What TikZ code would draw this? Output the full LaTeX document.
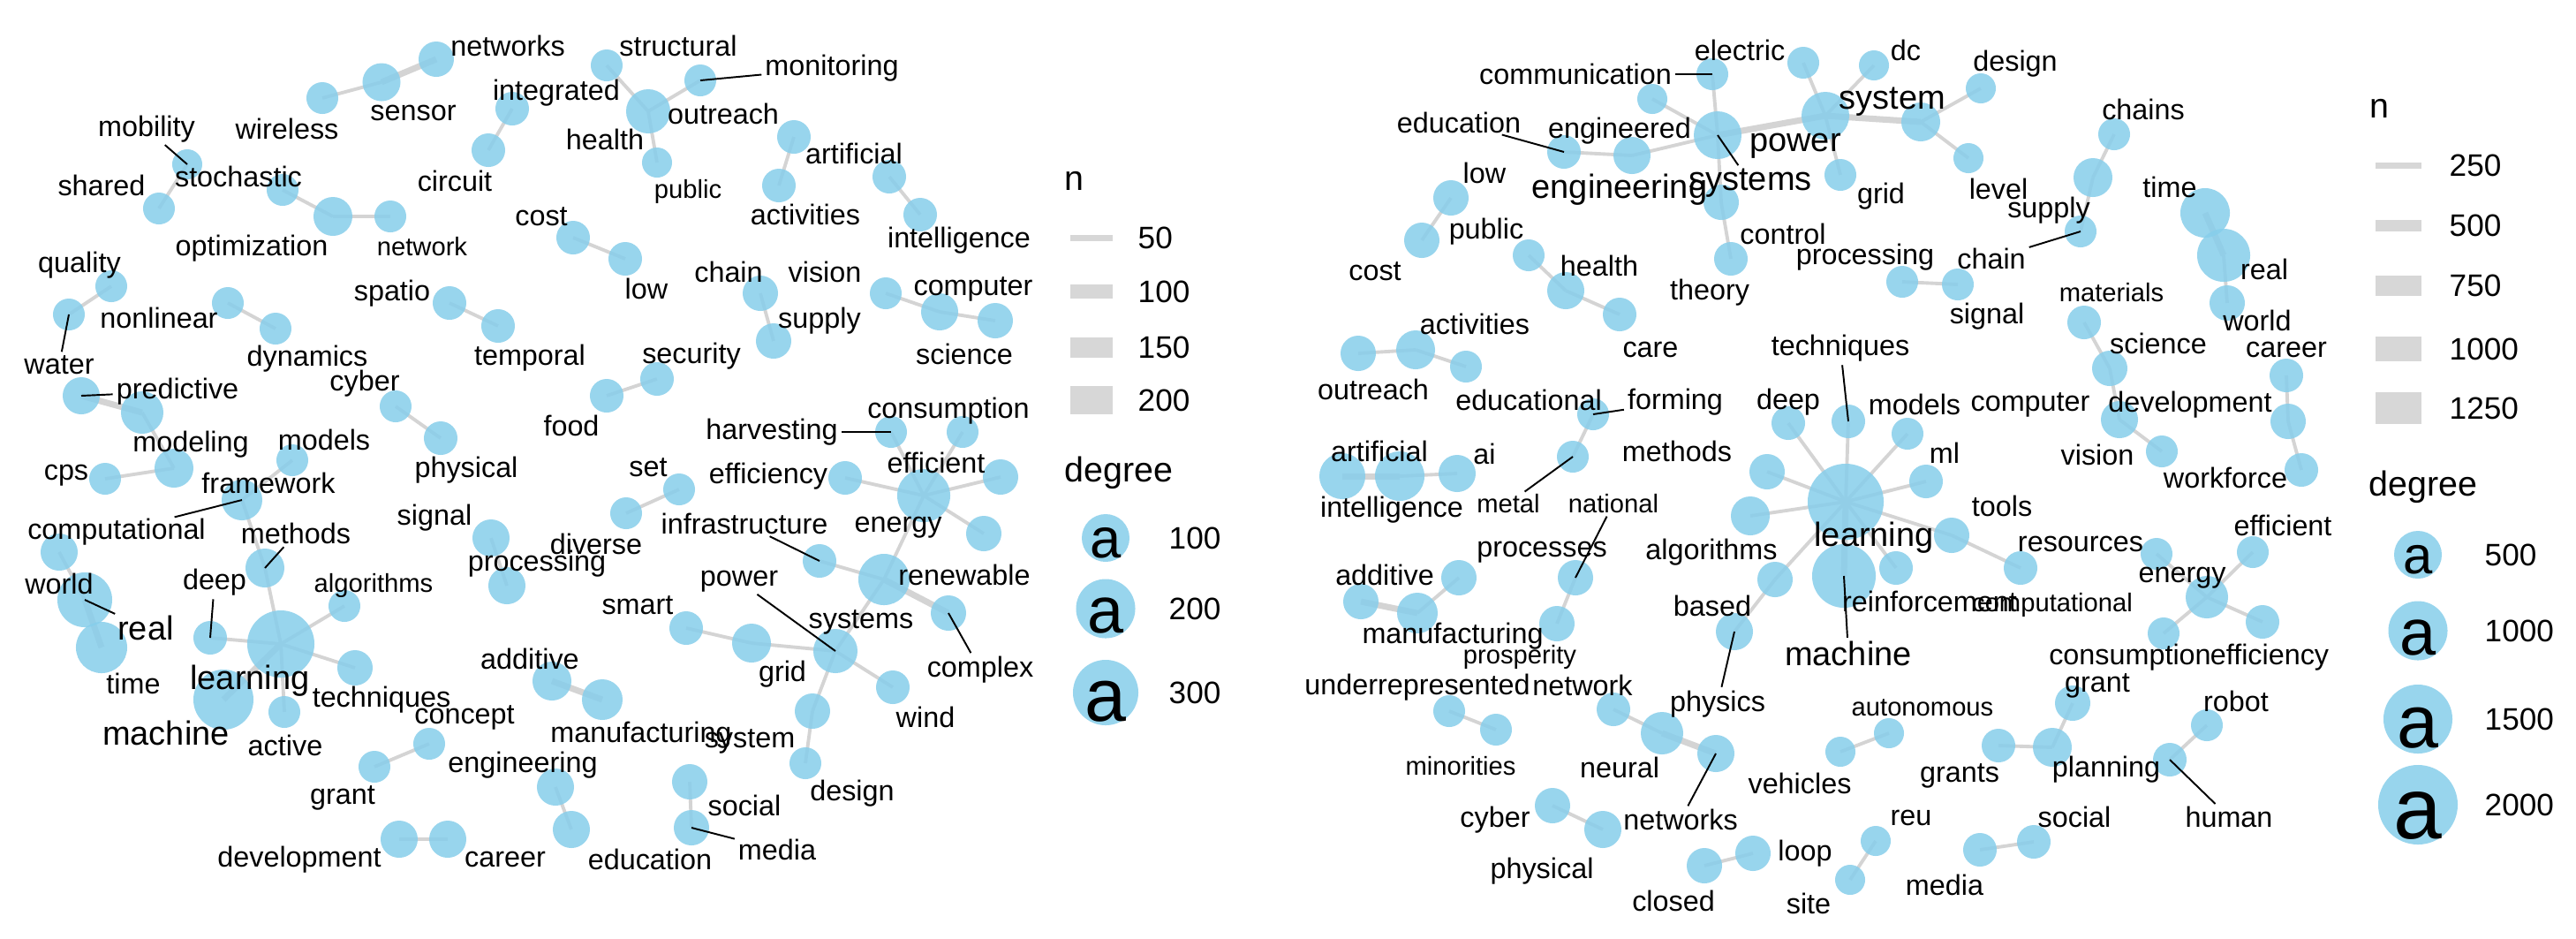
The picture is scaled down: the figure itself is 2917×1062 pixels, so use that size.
\documentclass[tikz,border=0pt]{standalone}
\usepackage{fontspec}
\setmainfont{Liberation Sans}
\usetikzlibrary{backgrounds}
\definecolor{nodeblue}{RGB}{135,206,235}
\definecolor{edgegrey}{RGB}{212,212,212}
\definecolor{keygrey}{RGB}{215,215,215}
\tikzset{
  nd/.style={circle, fill=nodeblue, fill opacity=0.85, draw=none, inner sep=0pt, minimum size=#1*0.1mm},
  lb/.style={inner sep=0pt, text=black, font=\fontsize{9.2}{10}\selectfont},
  lbs/.style={lb, font=\fontsize{8.3}{9}\selectfont},
  lbl/.style={lb, font=\fontsize{10.8}{12}\selectfont},
  ed/.style={draw=edgegrey, line width=1.1pt},
  edt/.style={draw=edgegrey, line width=2pt},
  ld/.style={draw=black, line width=0.55pt, shorten <=1pt},
  lgt/.style={inner sep=0pt, anchor=west, font=\fontsize{11.2}{12}\selectfont},
  lgn/.style={inner sep=0pt, anchor=west, font=\fontsize{10}{11}\selectfont},
  keyline/.style={draw=keygrey, line width=#1*0.1mm},
}
\newcommand\mkN[4]{\node[nd=#4] (#1) at (#2,#3) {};}
\newcommand\mkT[5][lb]{\node[#1] (t#2) at (#3,#4) {#5};}
\newcommand\mkE[3][ed]{\draw[#1] (#2.center) -- (#3.center);}
\newcommand\mkL[1]{\draw[ld] (t#1) -- (#1.center);}
\begin{document}
\begin{tikzpicture}[x=0.01cm, y=-0.01cm]
\useasboundingbox (0,0) rectangle (2917,1062);
% ================= LEFT PANEL: nodes =================
\mkN{Lnetworks}{494}{67}{40}
\mkN{Lsensor}{432}{93}{43}
\mkN{Lwireless}{365}{111}{36}
\mkN{Lmobility}{212}{186}{34}
\mkN{Lshared}{180}{236}{36}
\mkN{Lstochastic}{320}{215}{36}
\mkN{Loptimization}{377}{245}{44}
\mkN{Lnetwork}{442}{245}{36}
\mkN{Lquality}{126}{324}{36}
\mkN{Lwater}{78}{356}{36}
\mkN{Lnonlinear}{258}{343}{36}
\mkN{Ldynamics}{312}{372}{36}
\mkN{Lspatio}{509}{343}{38}
\mkN{Ltemporal}{564}{369}{38}
\mkN{Lpredictive}{92}{448}{42}
\mkN{Lmodeling}{161}{467}{48}
\mkN{Lcyber}{448}{460}{36}
\mkN{Lphysical}{499}{496}{38}
\mkN{Lmodels}{331}{521}{36}
\mkN{Lcps}{119}{542}{36}
\mkN{Lframework}{197}{530}{44}
\mkN{Lcomputational}{274}{566}{46}
\mkN{Lmethods}{300}{643}{44}
\mkN{Lworld}{67}{625}{42}
\mkN{Lreal}{96}{679}{62}
\mkN{Ltime}{115}{733}{58}
\mkN{Ldeep}{238}{722}{38}
\mkN{Llearning}{318}{729}{76}
\mkN{Lmachine}{253}{792}{68}
\mkN{Lalgorithms}{390}{686}{36}
\mkN{Ltechniques}{402}{756}{40}
\mkN{Lactive}{322}{806}{36}
\mkN{Lconcept}{486}{842}{36}
\mkN{Lgrant}{424}{868}{36}
\mkN{Ldevelopment}{452}{950}{42}
\mkN{Lcareer}{507}{950}{42}
\mkN{Lsignal}{556}{609}{42}
\mkN{Lprocessing}{574}{663}{42}
\mkN{Lset}{769}{554}{36}
\mkN{Ldiverse}{709}{581}{36}
\mkN{Lefficiency}{957}{541}{38}
\mkN{Lenergy}{1046}{561}{60}
\mkN{Lharvesting}{1009}{489}{36}
\mkN{Lconsumption}{1090}{489}{36}
\mkN{Lefficient}{1133}{540}{40}
\mkN{Lrenewable}{1114}{604}{40}
\mkN{Lsystems}{1001}{656}{58}
\mkN{Linfrastructure}{928}{635}{38}
\mkN{Lcomplex}{1074}{694}{40}
\mkN{Lpower}{946}{737}{50}
\mkN{Lgrid}{851}{728}{44}
\mkN{Lsmart}{777}{711}{38}
\mkN{Lwind}{1011}{778}{38}
\mkN{Lsystem}{920}{805}{40}
\mkN{Ldesign}{912}{864}{36}
\mkN{Ladditive}{625}{771}{44}
\mkN{Lmanufacturing}{682}{792}{46}
\mkN{Lengineering}{629}{891}{42}
\mkN{Leducation}{647}{939}{42}
\mkN{Lsocial}{781}{885}{40}
\mkN{Lmedia}{783}{937}{40}
\mkN{Lstructural}{687}{74}{36}
\mkN{Lmonitoring}{793}{91}{36}
\mkN{Lhealth}{734}{126}{50}
\mkN{Lpublic}{744}{184}{34}
\mkN{Loutreach}{899}{155}{38}
\mkN{Lactivities}{882}{210}{38}
\mkN{Lartificial}{1007}{200}{38}
\mkN{Lintelligence}{1042}{243}{38}
\mkN{Lcost}{649}{269}{38}
\mkN{Llow}{708}{293}{38}
\mkN{Lchain}{861}{332}{40}
\mkN{Lsupply}{876}{386}{40}
\mkN{Lvision}{1003}{332}{36}
\mkN{Lcomputer}{1064}{353}{42}
\mkN{Lscience}{1127}{363}{40}
\mkN{Lfood}{687}{448}{38}
\mkN{Lsecurity}{744}{429}{38}
\mkN{Lintegrated}{580}{123}{38}
\mkN{Lcircuit}{553}{170}{38}
% ================= RIGHT PANEL: nodes =================
\mkN{Relectric}{2042}{71}{36}
\mkN{Rcommunication}{1939}{84}{36}
\mkN{Rengineered}{1871}{112}{34}
\mkN{Reducation}{1771}{172}{38}
\mkN{Rengineering}{1848}{176}{42}
\mkN{Rsystems}{1945}{153}{54}
\mkN{Rcontrol}{1949}{229}{40}
\mkN{Rtheory}{1960}{293}{38}
\mkN{Rpower}{2067}{131}{54}
\mkN{Rdc}{2122}{74}{34}
\mkN{Rdesign}{2243}{100}{34}
\mkN{Rsystem}{2175}{138}{44}
\mkN{Rgrid}{2084}{198}{36}
\mkN{Rlevel}{2229}{179}{34}
\mkN{Rchains}{2394}{152}{36}
\mkN{Rsupply}{2370}{201}{44}
\mkN{Rchain}{2356}{262}{36}
\mkN{Rprocessing}{2154}{319}{36}
\mkN{Rsignal}{2217}{322}{36}
\mkN{Rtime}{2497}{241}{56}
\mkN{Rreal}{2518}{289}{60}
\mkN{Rworld}{2522}{343}{40}
\mkN{Rmaterials}{2360}{365}{38}
\mkN{Rscience}{2389}{417}{40}
\mkN{Rcomputer}{2400}{475}{42}
\mkN{Rvision}{2448}{511}{36}
\mkN{Rcareer}{2589}{425}{38}
\mkN{Rdevelopment}{2591}{477}{40}
\mkN{Rworkforce}{2606}{532}{38}
\mkN{Rdeep}{2025}{479}{38}
\mkN{Rtechniques}{2093}{477}{38}
\mkN{Rmodels}{2160}{491}{36}
\mkN{Rml}{2181}{545}{38}
\mkN{Rlearning}{2090}{568}{86}
\mkN{Rmachine}{2088}{652}{72}
\mkN{Rreinforcement}{2147}{643}{38}
\mkN{Rtools}{2210}{606}{40}
\mkN{Rcomputational}{2288}{643}{38}
\mkN{Rresources}{2442}{627}{36}
\mkN{Renergy}{2499}{676}{48}
\mkN{Refficient}{2551}{625}{36}
\mkN{Refficiency}{2562}{704}{38}
\mkN{Rconsumption}{2450}{717}{36}
\mkN{Rgrant}{2347}{796}{40}
\mkN{Rplanning}{2324}{846}{44}
\mkN{Rgrants}{2263}{844}{38}
\mkN{Rrobot}{2499}{821}{36}
\mkN{Rhuman}{2457}{860}{38}
\mkN{Rautonomous}{2139}{830}{34}
\mkN{Rvehicles}{2084}{851}{34}
\mkN{Rreu}{2124}{952}{34}
\mkN{Rsite}{2095}{996}{34}
\mkN{Rsocial}{2303}{953}{38}
\mkN{Rmedia}{2242}{962}{38}
\mkN{Rloop}{1985}{966}{40}
\mkN{Rclosed}{1930}{980}{40}
\mkN{Rcyber}{1758}{912}{40}
\mkN{Rphysical}{1815}{939}{42}
\mkN{Rneural}{1882}{830}{48}
\mkN{Rnetwork}{1827}{803}{38}
\mkN{Rnetworks}{1943}{853}{42}
\mkN{Rphysics}{1964}{715}{42}
\mkN{Rbased}{2010}{656}{40}
\mkN{Ralgorithms}{1982}{584}{44}
\mkN{Rmethods}{2001}{534}{40}
\mkN{Runderrepresented}{1641}{805}{36}
\mkN{Rminorities}{1694}{826}{36}
\mkN{Rnational}{1784}{654}{40}
\mkN{Rprosperity}{1763}{706}{40}
\mkN{Radditive}{1541}{681}{40}
\mkN{Rmanufacturing}{1605}{694}{46}
\mkN{Rprocesses}{1652}{654}{40}
\mkN{Rartificial}{1520}{539}{52}
\mkN{Rintelligence}{1585}{539}{56}
\mkN{Rai}{1650}{536}{42}
\mkN{Rmetal}{1781}{517}{36}
\mkN{Rforming}{1804}{469}{36}
\mkN{Routreach}{1538}{400}{40}
\mkN{Ractivities}{1603}{396}{44}
\mkN{Reducational}{1660}{415}{36}
\mkN{Rlow}{1643}{224}{40}
\mkN{Rcost}{1610}{272}{40}
\mkN{Rpublic}{1731}{289}{36}
\mkN{Rhealth}{1773}{329}{42}
\mkN{Rcare}{1834}{356}{38}
% ================= edges (background) =================
\begin{scope}[on background layer]
\fill[white] (0,0) rectangle (2917,1062);
\mkE[edt]{Lnetworks}{Lsensor} \mkE{Lsensor}{Lwireless}
\mkE{Lmobility}{Lshared}
\mkE{Lstochastic}{Loptimization} \mkE{Loptimization}{Lnetwork}
\mkE{Lquality}{Lwater}
\mkE{Lnonlinear}{Ldynamics}
\mkE{Lspatio}{Ltemporal}
\mkE[edt]{Lpredictive}{Lmodeling} \mkE{Lmodeling}{Lframework} \mkE{Lcps}{Lframework}
\mkE{Lcomputational}{Lmodels} \mkE{Lcomputational}{Lmethods} \mkE{Lmethods}{Llearning}
\mkE{Lcyber}{Lphysical}
\mkE{Lworld}{Lreal} \mkE[edt]{Lreal}{Ltime}
\mkE{Ldeep}{Llearning} \mkE[edt]{Llearning}{Lmachine} \mkE{Llearning}{Lalgorithms}
\mkE{Llearning}{Ltechniques} \mkE{Llearning}{Lactive}
\mkE{Lconcept}{Lgrant}
\mkE{Ldevelopment}{Lcareer}
\mkE{Lsignal}{Lprocessing}
\mkE{Lset}{Ldiverse}
\mkE{Lenergy}{Lefficiency} \mkE{Lenergy}{Lharvesting} \mkE{Lenergy}{Lconsumption}
\mkE{Lenergy}{Lefficient} \mkE{Lenergy}{Lrenewable} \mkE{Lenergy}{Lsystems}
\mkE{Lsystems}{Linfrastructure} \mkE[edt]{Lsystems}{Lcomplex} \mkE{Lsystems}{Lpower}
\mkE{Lpower}{Lgrid} \mkE{Lgrid}{Lsmart} \mkE{Lpower}{Lwind} \mkE{Lpower}{Lsystem} \mkE{Lsystem}{Ldesign}
\mkE[edt]{Ladditive}{Lmanufacturing}
\mkE{Lengineering}{Leducation}
\mkE{Lsocial}{Lmedia}
\mkE{Lstructural}{Lhealth} \mkE{Lhealth}{Lmonitoring} \mkE{Lhealth}{Lpublic}
\mkE{Lintegrated}{Lcircuit}
\mkE{Loutreach}{Lactivities}
\mkE{Lartificial}{Lintelligence}
\mkE{Lcost}{Llow}
\mkE{Lchain}{Lsupply}
\mkE{Lvision}{Lcomputer} \mkE{Lcomputer}{Lscience}
\mkE{Lfood}{Lsecurity}
% right
\mkE{Rsystems}{Rcommunication} \mkE{Rsystems}{Rengineered} \mkE{Rsystems}{Rengineering}
\mkE{Rsystems}{Rcontrol} \mkE[edt]{Rsystems}{Rpower}
\mkE{Rengineering}{Reducation}
\mkE{Rcontrol}{Rtheory}
\mkE{Rpower}{Relectric} \mkE{Rpower}{Rdc} \mkE{Rpower}{Rgrid} \mkE[edt]{Rpower}{Rsystem}
\mkE{Rsystem}{Rdesign} \mkE{Rsystem}{Rlevel}
\mkE{Rsupply}{Rchains} \mkE{Rsupply}{Rchain}
\mkE{Rprocessing}{Rsignal}
\mkE[edt]{Rtime}{Rreal} \mkE{Rreal}{Rworld}
\mkE{Rmaterials}{Rscience} \mkE{Rscience}{Rcomputer} \mkE{Rcomputer}{Rvision}
\mkE{Rcareer}{Rdevelopment} \mkE{Rdevelopment}{Rworkforce}
\mkE{Rlearning}{Rdeep} \mkE{Rlearning}{Rtechniques} \mkE{Rlearning}{Rmodels}
\mkE{Rlearning}{Rml} \mkE{Rlearning}{Rtools} \mkE{Rlearning}{Rreinforcement}
\mkE[edt]{Rlearning}{Rmachine} \mkE{Rlearning}{Rmethods} \mkE{Rlearning}{Ralgorithms}
\mkE{Rlearning}{Rbased}
\mkE{Rtools}{Rcomputational}
\mkE{Renergy}{Rresources} \mkE{Renergy}{Refficient} \mkE{Renergy}{Refficiency} \mkE{Renergy}{Rconsumption}
\mkE{Rgrants}{Rplanning} \mkE{Rplanning}{Rgrant}
\mkE{Rrobot}{Rhuman}
\mkE{Rautonomous}{Rvehicles}
\mkE{Rreu}{Rsite}
\mkE{Rsocial}{Rmedia}
\mkE{Rclosed}{Rloop}
\mkE{Rcyber}{Rphysical}
\mkE{Rnetwork}{Rneural} \mkE[edt]{Rneural}{Rnetworks}
\mkE{Rphysics}{Rbased}
\mkE{Runderrepresented}{Rminorities}
\mkE{Rnational}{Rprosperity}
\mkE[edt]{Radditive}{Rmanufacturing} \mkE{Rmanufacturing}{Rprocesses}
\mkE[edt]{Rartificial}{Rintelligence} \mkE{Rintelligence}{Rai}
\mkE{Rforming}{Rmetal}
\mkE{Routreach}{Ractivities} \mkE{Ractivities}{Reducational}
\mkE{Rlow}{Rcost}
\mkE{Rpublic}{Rhealth} \mkE{Rhealth}{Rcare}
\end{scope}
% ================= LEFT labels =================
\mkT{Lnetworks}{575}{52}{networks}
\mkT{Lsensor}{468}{128}{sensor}
\mkT{Lwireless}{325}{146}{wireless}
\mkT{Lmobility}{166}{146}{mobility}
\mkT{Lstochastic}{270}{200}{stochastic}
\mkT{Lshared}{115}{210}{shared}
\mkT{Loptimization}{285}{281}{optimization}
\mkT[lbs]{Lnetwork}{478}{279}{network}
\mkT{Lquality}{90}{300}{quality}
\mkT{Lwater}{67}{413}{water}
\mkT{Lnonlinear}{180}{360}{nonlinear}
\mkT{Ldynamics}{348}{406}{dynamics}
\mkT{Lspatio}{444}{332}{spatio}
\mkT{Ltemporal}{600}{405}{temporal}
\mkT{Lpredictive}{201}{443}{predictive}
\mkT{Lmodeling}{216}{503}{modeling}
\mkT{Lcyber}{413}{434}{cyber}
\mkT{Lphysical}{528}{532}{physical}
\mkT{Lmodels}{367}{498}{models}
\mkT{Lcps}{75}{538}{cps}
\mkT{Lframework}{304}{547}{framework}
\mkT{Lcomputational}{132}{602}{computational}
\mkT{Lmethods}{335}{604}{methods}
\mkT{Lworld}{67}{661}{world}
\mkT[lbl]{Lreal}{165}{711}{real}
\mkT{Ltime}{151}{774}{time}
\mkT{Ldeep}{243}{659}{deep}
\mkT[lbl]{Llearning}{283}{771}{learning}
\mkT[lbl]{Lmachine}{188}{830}{machine}
\mkT[lbs]{Lalgorithms}{423}{663}{algorithms}
\mkT{Ltechniques}{432}{792}{techniques}
\mkT{Lactive}{323}{844}{active}
\mkT{Lconcept}{526}{812}{concept}
\mkT{Lgrant}{388}{903}{grant}
\mkT{Ldevelopment}{339}{973}{development}
\mkT{Lcareer}{572}{973}{career}
\mkT{Lsignal}{492}{586}{signal}
\mkT{Lprocessing}{608}{638}{processing}
\mkT{Lset}{734}{529}{set}
\mkT{Ldiverse}{675}{616}{diverse}
\mkT{Lefficiency}{870}{539}{efficiency}
\mkT{Lenergy}{1017}{597}{energy}
\mkT{Lharvesting}{874}{489}{harvesting}
\mkT{Lconsumption}{1074}{465}{consumption}
\mkT{Lefficient}{1060}{524}{efficient}
\mkT{Lrenewable}{1092}{651}{renewable}
\mkT{Lsystems}{975}{704}{systems}
\mkT{Linfrastructure}{843}{593}{infrastructure}
\mkT{Lcomplex}{1110}{758}{complex}
\mkT{Lpower}{837}{658}{power}
\mkT{Lgrid}{886}{763}{grid}
\mkT{Lsmart}{722}{685}{smart}
\mkT{Lwind}{1048}{812}{wind}
\mkT{Lsystem}{849}{839}{system}
\mkT{Ldesign}{965}{898}{design}
\mkT{Ladditive}{600}{746}{additive}
\mkT{Lmanufacturing}{726}{832}{manufacturing}
\mkT{Lengineering}{592}{866}{engineering}
\mkT{Leducation}{736}{973}{education}
\mkT{Lsocial}{843}{912}{social}
\mkT{Lmedia}{880}{962}{media}
\mkT{Lstructural}{768}{52}{structural}
\mkT{Lmonitoring}{942}{77}{monitoring}
\mkT{Lhealth}{685}{158}{health}
\mkT[lbs]{Lpublic}{779}{217}{public}
\mkT{Loutreach}{819}{129}{outreach}
\mkT{Lactivities}{912}{243}{activities}
\mkT{Lartificial}{967}{174}{artificial}
\mkT{Lintelligence}{1086}{272}{intelligence}
\mkT{Lcost}{613}{245}{cost}
\mkT{Llow}{732}{327}{low}
\mkT{Lchain}{825}{308}{chain}
\mkT{Lsupply}{928}{363}{supply}
\mkT{Lvision}{934}{308}{vision}
\mkT{Lcomputer}{1102}{327}{computer}
\mkT{Lscience}{1092}{401}{science}
\mkT{Lfood}{647}{482}{food}
\mkT{Lsecurity}{783}{403}{security}
\mkT{Lintegrated}{630}{105}{integrated}
\mkT{Lcircuit}{515}{205}{circuit}
% ================= RIGHT labels =================
\mkT{Relectric}{1970}{57}{electric}
\mkT{Rcommunication}{1784}{84}{communication}
\mkT{Rengineered}{1834}{148}{engineered}
\mkT{Reducation}{1652}{139}{education}
\mkT[lbl]{Rengineering}{1834}{215}{engineering}
\mkT[lbl]{Rsystems}{1982}{207}{systems}
\mkT[lbl]{Rpower}{2033}{165}{power}
\mkT{Rcontrol}{2019}{265}{control}
\mkT{Rtheory}{1936}{331}{theory}
\mkT{Rdc}{2158}{57}{dc}
\mkT{Rdesign}{2282}{72}{design}
\mkT[lbl]{Rsystem}{2143}{115}{system}
\mkT{Rgrid}{2130}{222}{grid}
\mkT{Rlevel}{2263}{214}{level}
\mkT{Rchains}{2427}{124}{chains}
\mkT{Rsupply}{2320}{238}{supply}
\mkT{Rchain}{2255}{293}{chain}
\mkT{Rprocessing}{2112}{291}{processing}
\mkT{Rsignal}{2250}{358}{signal}
\mkT{Rtime}{2457}{212}{time}
\mkT{Rreal}{2564}{305}{real}
\mkT{Rworld}{2556}{363}{world}
\mkT[lbs]{Rmaterials}{2391}{331}{materials}
\mkT{Rscience}{2444}{389}{science}
\mkT{Rcomputer}{2299}{458}{computer}
\mkT{Rdevelopment}{2480}{458}{development}
\mkT{Rvision}{2375}{515}{vision}
\mkT{Rcareer}{2589}{396}{career}
\mkT{Rworkforce}{2520}{541}{workforce}
\mkT{Rtechniques}{2084}{394}{techniques}
\mkT{Rdeep}{2025}{455}{deep}
\mkT{Rmodels}{2168}{458}{models}
\mkT{Rml}{2202}{513}{ml}
\mkT[lbl]{Rlearning}{2122}{609}{learning}
\mkT[lbl]{Rmachine}{2093}{740}{machine}
\mkT{Rreinforcement}{2185}{681}{reinforcement}
\mkT{Rtools}{2267}{573}{tools}
\mkT[lbs]{Rcomputational}{2324}{685}{computational}
\mkT{Rresources}{2356}{616}{resources}
\mkT{Renergy}{2471}{654}{energy}
\mkT{Refficient}{2585}{595}{efficient}
\mkT{Refficiency}{2570}{744}{efficiency}
\mkT{Rconsumption}{2412}{744}{consumption}
\mkT{Rgrant}{2375}{776}{grant}
\mkT{Rplanning}{2385}{871}{planning}
\mkT{Rgrants}{2219}{878}{grants}
\mkT{Rrobot}{2532}{794}{robot}
\mkT{Rhuman}{2524}{925}{human}
\mkT[lbs]{Rautonomous}{2177}{801}{autonomous}
\mkT{Rvehicles}{2038}{887}{vehicles}
\mkT{Rreu}{2164}{926}{reu}
\mkT{Rsite}{2048}{1023}{site}
\mkT{Rsocial}{2349}{925}{social}
\mkT{Rmedia}{2202}{1002}{media}
\mkT{Rloop}{2044}{966}{loop}
\mkT{Rclosed}{1895}{1020}{closed}
\mkT{Rcyber}{1693}{928}{cyber}
\mkT{Rphysical}{1746}{986}{physical}
\mkT{Rneural}{1834}{869}{neural}
\mkT{Rnetwork}{1792}{776}{network}
\mkT{Rnetworks}{1903}{928}{networks}
\mkT{Rphysics}{1945}{797}{physics}
\mkT{Rbased}{1939}{686}{based}
\mkT{Ralgorithms}{1938}{625}{algorithms}
\mkT{Rmethods}{1899}{511}{methods}
\mkT{Runderrepresented}{1605}{778}{underrepresented}
\mkT[lbs]{Rminorities}{1654}{867}{minorities}
\mkT[lbs]{Rnational}{1827}{570}{national}
\mkT[lbs]{Rprosperity}{1721}{744}{prosperity}
\mkT{Radditive}{1568}{651}{additive}
\mkT{Rmanufacturing}{1645}{720}{manufacturing}
\mkT{Rprocesses}{1746}{625}{processes}
\mkT{Rartificial}{1562}{511}{artificial}
\mkT{Rintelligence}{1576}{577}{intelligence}
\mkT{Rai}{1681}{514}{ai}
\mkT[lbs]{Rmetal}{1708}{570}{metal}
\mkT{Rforming}{1897}{455}{forming}
\mkT{Routreach}{1555}{441}{outreach}
\mkT{Ractivities}{1670}{367}{activities}
\mkT{Reducational}{1731}{453}{educational}
\mkT{Rlow}{1681}{196}{low}
\mkT{Rcost}{1557}{307}{cost}
\mkT{Rpublic}{1683}{262}{public}
\mkT{Rhealth}{1811}{301}{health}
\mkT{Rcare}{1869}{396}{care}
% ================= leader lines =================
\mkL{Lmobility} \mkL{Lwater} \mkL{Lpredictive} \mkL{Lcomputational} \mkL{Lmethods}
\mkL{Lreal} \mkL{Ldeep} \mkL{Lmonitoring} \mkL{Lharvesting} \mkL{Linfrastructure}
\mkL{Lpower} \mkL{Lcomplex} \mkL{Lmedia}
\mkL{Rcommunication} \mkL{Reducation} \mkL{Rsystems} \mkL{Rchain} \mkL{Rtechniques}
\mkL{Rmachine} \mkL{Rhuman} \mkL{Rforming} \mkL{Rmetal} \mkL{Rnational} \mkL{Rphysics}
\mkL{Rnetworks}
% ================= LEFT legend =================
\node[lgt] (lgLn) at (1205,205) {n};
\draw[keyline=7]  (1212,269) -- (1260,269);
\draw[keyline=16] (1212,330) -- (1260,330);
\draw[keyline=23] (1212,393) -- (1260,393);
\draw[keyline=32] (1212,453) -- (1260,453);
\node[lgn] (lgL50)  at (1288,269) {50};
\node[lgn] (lgL100) at (1288,330) {100};
\node[lgn] (lgL150) at (1288,393) {150};
\node[lgn] (lgL200) at (1288,453) {200};
\node[lgt] (lgLdeg) at (1205,535) {degree};
\node[nd=54] (kL1) at (1252,609) {};
\node[nd=67] (kL2) at (1252,689) {};
\node[nd=74] (kL3) at (1252,784) {};
\node[inner sep=0pt, font=\fontsize{18}{18}\selectfont] (aL1) at (1252,615) {a};
\node[inner sep=0pt, font=\fontsize{21}{21}\selectfont] (aL2) at (1252,697) {a};
\node[inner sep=0pt, font=\fontsize{24}{24}\selectfont] (aL3) at (1252,794) {a};
\node[lgn] (lgLd1) at (1323,609) {100};
\node[lgn] (lgLd2) at (1323,689) {200};
\node[lgn] (lgLd3) at (1323,784) {300};
% ================= RIGHT legend =================
\node[lgt] (lgRn) at (2683,123) {n};
\draw[keyline=7]  (2690,187) -- (2742,187);
\draw[keyline=13] (2690,255) -- (2742,255);
\draw[keyline=23] (2690,323) -- (2742,323);
\draw[keyline=28] (2690,395) -- (2742,395);
\draw[keyline=36] (2690,462) -- (2742,462);
\node[lgn] (lgR1) at (2773,187) {250};
\node[lgn] (lgR2) at (2773,255) {500};
\node[lgn] (lgR3) at (2773,323) {750};
\node[lgn] (lgR4) at (2773,395) {1000};
\node[lgn] (lgR5) at (2773,462) {1250};
\node[lgt] (lgRdeg) at (2682,551) {degree};
\node[nd=54] (kR1) at (2738,628) {};
\node[nd=67] (kR2) at (2738,714) {};
\node[nd=78] (kR3) at (2738,814) {};
\node[nd=90] (kR4) at (2738,911) {};
\node[inner sep=0pt, font=\fontsize{17}{17}\selectfont] (aR1) at (2738,634) {a};
\node[inner sep=0pt, font=\fontsize{21}{21}\selectfont] (aR2) at (2738,722) {a};
\node[inner sep=0pt, font=\fontsize{24}{24}\selectfont] (aR3) at (2738,824) {a};
\node[inner sep=0pt, font=\fontsize{28}{28}\selectfont] (aR4) at (2738,923) {a};
\node[lgn] (lgRd1) at (2813,628) {500};
\node[lgn] (lgRd2) at (2813,714) {1000};
\node[lgn] (lgRd3) at (2813,814) {1500};
\node[lgn] (lgRd4) at (2813,911) {2000};
\end{tikzpicture}
\end{document}
